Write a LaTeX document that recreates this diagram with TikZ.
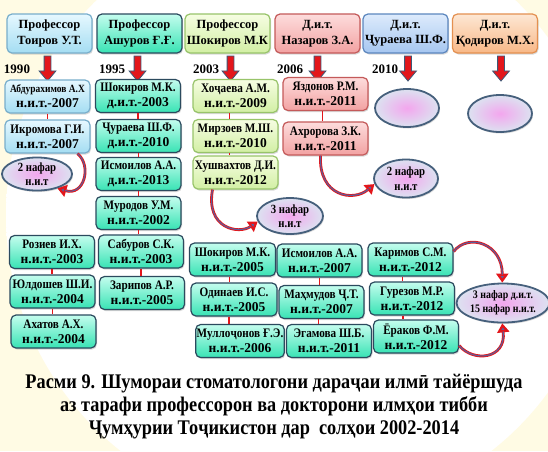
\documentclass[tikz,border=0pt]{standalone}
\usepackage{fontspec}
\setmainfont{Liberation Serif}
\newfontfamily\condfont[FakeStretch=0.86]{Liberation Serif}
\newfontfamily\capfont[FakeStretch=0.88]{Liberation Serif}
\usetikzlibrary{shapes.geometric,shapes.arrows,shadows,arrows.meta,calc}
\definecolor{ybg}{HTML}{FFEF9E}
\definecolor{ycream}{HTML}{FFFBE4}
\definecolor{aquaT}{HTML}{C4FDEE}
\definecolor{aquaB}{HTML}{38E3B4}
\definecolor{aquaD}{HTML}{2B4A5E}
\definecolor{lbT}{HTML}{E6F8FF}
\definecolor{lbB}{HTML}{A4DDF2}
\definecolor{lbD}{HTML}{78AECB}
\definecolor{lgT}{HTML}{F6FDE2}
\definecolor{lgB}{HTML}{D2EFA4}
\definecolor{lgD}{HTML}{98C46A}
\definecolor{pkT}{HTML}{FDDCDC}
\definecolor{pkB}{HTML}{F2A2A2}
\definecolor{pkD}{HTML}{C45A5A}
\definecolor{blT}{HTML}{DDEBFC}
\definecolor{blB}{HTML}{A6C6F0}
\definecolor{blD}{HTML}{5B86BE}
\definecolor{orT}{HTML}{FDE7D4}
\definecolor{orB}{HTML}{F8B887}
\definecolor{orD}{HTML}{E49050}
\definecolor{elIn}{HTML}{F3A6EE}
\definecolor{elOut}{HTML}{DCE2F0}
\definecolor{elD}{HTML}{46607C}
\definecolor{cred}{HTML}{E3161B}
\definecolor{cslate}{HTML}{5B5F9C}
\definecolor{arrD}{HTML}{3C5A78}
\pgfdeclareradialshading{glow}{\pgfpoint{0bp}{0bp}}{color(0bp)=(white); color(29bp)=(white); color(40bp)=(ybg); color(50bp)=(ycream)}
\newcommand\two[2]{{\condfont\fontsize{13}{15}\selectfont #1}\\#2}
\newcommand\curvearrow[4]{\draw[curv] #1 .. controls #2 and #3 .. #4; \draw[curvin] #1 .. controls #2 and #3 .. #4;}
\begin{document}
\begin{tikzpicture}[x=1pt,y=-1pt,
  box/.style={rounded corners=5pt, line width=1.2pt, align=center, inner sep=1pt,
    minimum width=85pt, minimum height=33pt,
    drop shadow={opacity=0.3, shadow xshift=1pt, shadow yshift=-1.5pt},
    font=\fontsize{13.5}{15}\selectfont\bfseries},
  aqua/.style={box, draw=aquaD, top color=aquaT, bottom color=aquaB},
  lblue/.style={box, draw=lbD, top color=lbT, bottom color=lbB},
  lgreen/.style={box, draw=lgD, top color=lgT, bottom color=lgB},
  pinkbox/.style={box, draw=pkD, top color=pkT, bottom color=pkB},
  bluebox/.style={box, draw=blD, top color=blT, bottom color=blB},
  orangebox/.style={box, draw=orD, top color=orT, bottom color=orB},
  head/.style={minimum height=39pt, font=\fontsize{12.5}{15.5}\selectfont\bfseries},
  ell/.style={ellipse, draw=elD, line width=1.8pt, inner color=elIn, outer color=elOut,
    inner sep=0pt, align=center, font=\condfont\fontsize{12.5}{14.5}\selectfont\bfseries,
    drop shadow={opacity=0.3, shadow xshift=1pt, shadow yshift=-1.5pt}},
  conn/.style={draw=cred, line width=1.2pt},
  yr/.style={font=\fontsize{13}{15}\selectfont\bfseries, inner sep=0pt},
  darr/.style={single arrow, draw=arrD, fill=cred, line width=0.8pt, minimum height=25pt,
    single arrow head extend=5pt, single arrow tip angle=80, inner xsep=0pt, inner ysep=3pt, rotate=-90},
  curv/.style={draw=cred, line width=2.8pt, -{Triangle[width=12pt,length=9pt,fill=cslate]}},
  curvin/.style={draw=cslate, line width=1.1pt, shorten >=8pt}
]
\useasboundingbox (0,0) rectangle (548,451);
\begin{scope}
\clip (0,0) rectangle (548,451);
\fill[ycream] (0,0) rectangle (548,451);
\shade[shading=glow] (306,215) circle (300);
\end{scope}

% headers
\node[lblue, head] (h1) at (49.5,33.5) {Профессор\\Тоиров У.Т.};
\node[aqua, head] (h2) at (139.5,33.5) {Профессор\\Ашуров Ғ.Ғ.};
\node[lgreen, head] (h3) at (227.5,33.5) {Профессор\\Шокиров М.К};
\node[pinkbox, head] (h4) at (317.5,33.5) {Д.и.т.\\Назаров З.А.};
\node[bluebox, head] (h5) at (405.5,33.5) {Д.и.т.\\Ҷураева Ш.Ф.};
\node[orangebox, head] (h6) at (495,33.5) {Д.и.т.\\Қодиров М.Х.};

% years
\node[yr] (y1) at (17,69) {1990};
\node[yr] (y2) at (112,69) {1995};
\node[yr] (y3) at (206,69) {2003};
\node[yr] (y4) at (290,69) {2006};
\node[yr] (y5) at (385,69) {2010};

% down arrows
\node[darr, anchor=tail] (ah1) at ($(h1.south)+(-2,2)$) {};
\node[darr, anchor=tail] (ah2) at ($(h2.south)+(-2,2)$) {};
\node[darr, anchor=tail] (ah3) at ($(h3.south)+(3,2)$) {};
\node[darr, anchor=tail] (ah4) at ($(h4.south)+(0,2)$) {};
\node[darr, anchor=tail] (ah5) at ($(h5.south)+(2.5,2)$) {};
\node[darr, anchor=tail] (ah6) at ($(h6.south)+(6,2)$) {};

% column 1
\node[lblue] (c1a) at (47.5,96.5) {\two{\fontsize{11}{13}\selectfont Абдурахимов А.Х}{н.и.т.-2007}};
\node[lblue] (c1b) at (47.5,136.5) {\two{Икромова Г.И.}{н.и.т.-2007}};
\node[ell, minimum width=70pt, minimum height=32pt] (e1) at (37,174) {2 нафар\\н.и.т};

% column 2
\node[aqua] (c2a) at (138,96) {\two{Шокиров М.К.}{д.и.т.-2003}};
\node[aqua] (c2b) at (138.5,136) {\two{Ҷураева Ш.Ф.}{д.и.т.-2010}};
\node[aqua] (c2c) at (138.5,174) {\two{Исмоилов А.А.}{д.и.т.-2013}};
\node[aqua] (c2d) at (138.5,213) {\two{Муродов У.М.}{н.и.т.-2002}};
\node[aqua] (c2e) at (141,251.5) {\two{Сабуров С.К.}{н.и.т.-2003}};
\node[aqua] (c2f) at (142,293) {\two{Зарипов А.Р.}{н.и.т.-2005}};

% column 1 lower
\node[aqua] (r1) at (52,252) {\two{Розиев И.Х.}{н.и.т.-2003}};
\node[aqua] (r2) at (52.5,291.5) {\two{Юлдошев Ш.И.}{н.и.т.-2004}};
\node[aqua] (r3) at (53.5,331.5) {\two{Ахатов А.Х.}{н.и.т.-2004}};

% column 3 upper
\node[lgreen] (c3a) at (235.5,96) {\two{Хоҷаева А.М.}{н.и.т.-2009}};
\node[lgreen] (c3b) at (235.5,136) {\two{Мирзоев М.Ш.}{н.и.т.-2010}};
\node[lgreen] (c3c) at (235.5,172.5) {\two{Хушвахтов Д.И.}{н.и.т.-2012}};
\node[ell, minimum width=66pt, minimum height=36pt] (e3) at (290,216) {3 нафар\\н.и.т};

% column 3 lower
\node[aqua, minimum width=86pt] (d1) at (232.5,259.5) {\two{Шокиров М.К.}{н.и.т.-2005}};
\node[aqua, minimum width=86pt] (d2) at (234,299.5) {\two{Одинаев И.С.}{н.и.т.-2005}};
\node[aqua, minimum width=84pt] (d3) at (240,341) {\two{Муллоҷонов Ғ.Э.}{н.и.т.-2006}};

% column 4 lower
\node[aqua] (f1) at (319.5,260.5) {\two{Исмоилов А.А.}{н.и.т.-2007}};
\node[aqua] (f2) at (321.5,302) {\two{Маҳмудов Ҷ.Т.}{н.и.т.-2007}};
\node[aqua] (f3) at (329,341) {\two{Эгамова Ш.Б.}{н.и.т.-2011}};

% column 4 upper
\node[pinkbox] (p1) at (325.5,94) {\two{Яздонов Р.М.}{н.и.т.-2011}};
\node[pinkbox] (p2) at (325.5,138.5) {\two{Ахророва З.К.}{н.и.т.-2011}};
\node[ell, minimum width=64pt, minimum height=38pt] (e4) at (406,178.5) {2 нафар\\н.и.т};

% empty ellipses
\node[ell, minimum width=64pt, minimum height=38pt] (e5) at (407,108) {};
\node[ell, minimum width=64pt, minimum height=37pt] (e6) at (500,113.5) {};

% column 5 lower
\node[aqua] (g1) at (410.5,259.5) {\two{Каримов С.М.}{н.и.т.-2012}};
\node[aqua] (g2) at (412,298.5) {\two{Гурезов М.Р.}{н.и.т.-2012}};
\node[aqua] (g3) at (416,336.5) {\two{Ёраков Ф.М.}{н.и.т.-2012}};
\node[ell, minimum width=85pt, minimum height=39pt, font=\condfont\fontsize{11.5}{14}\selectfont\bfseries] (eb) at (503,303) {3 нафар д.и.т.\\15 нафар н.и.т.};

% connectors
\draw[conn] (c1a.south) -- (c1a.south |- c1b.north);
\draw[conn] (c2a.south) -- (c2a.south |- c2b.north);
\draw[conn] (c2b.south) -- (c2b.south |- c2c.north);
\draw[conn] (c2c.south) -- (c2c.south |- c2d.north);
\draw[conn] (c2d.south) -- (c2d.south |- c2e.north);
\draw[conn] (c2e.south) -- (c2e.south |- c2f.north);
\draw[conn] (r1.south) -- (r1.south |- r2.north);
\draw[conn] (r2.south) -- (r2.south |- r3.north);
\draw[conn] ($(r2.east)+(0,4)$) -- ($(r2.east)+(0,4)$ -| c2f.west);
\draw[conn] ([xshift=-6pt]c3a.south) -- ([xshift=-6pt]c3a.south |- c3b.north);
\draw[conn] ([xshift=-6pt]c3b.south) -- ([xshift=-6pt]c3b.south |- c3c.north);
\draw[conn] ([xshift=-3pt]d1.south) -- ([xshift=-3pt]d1.south |- d2.north);
\draw[conn] ([xshift=-5pt]d2.south) -- ([xshift=-5pt]d2.south |- d3.north);
\draw[conn] ($(d1.east)+(0,3)$) -- ($(d1.east)+(0,3)$ -| f1.west);
\draw[conn] (f1.south) -- (f1.south |- f2.north);
\draw[conn] ([xshift=-3pt]f2.south) -- ([xshift=-3pt]f2.south |- f3.north);
\draw[conn] ([xshift=-3pt]p1.south) -- ([xshift=-3pt]p1.south |- p2.north);
\draw[conn] ([xshift=-8pt]g1.south) -- ([xshift=-8pt]g1.south |- g2.north);
\draw[conn] ([xshift=-9pt]g2.south) -- ([xshift=-9pt]g2.south |- g3.north);

% curved arrows
\curvearrow{($(c1b.south)+(30,0)$)}{+(14.5,12)}{+(27,8)}{(e1.-35)}
\curvearrow{($(c3c.south)+(-23,0)$)}{+(-7,39)}{+(-19,13)}{(e3.190)}
\curvearrow{($(p2.south)+(-5,0)$)}{+(-2,41)}{+(-21,18)}{(e4.190)}
\curvearrow{($(g1.east)+(0,-8)$)}{+(15,-19)}{+(0,-39)}{(eb.92)}
\curvearrow{($(g3.east)+(0,9)$)}{+(14,17)}{+(4,36)}{(eb.-92)}

% caption
\node[font=\capfont\fontsize{20.8}{23}\selectfont\bfseries, align=center] (cap) at (274,407)
  {Расми 9. Шумораи стоматологони дараҷаи илмӣ тайёршуда\\аз тарафи профессорон ва докторони илмҳои тибби\\Ҷумҳурии Тоҷикистон дар~ солҳои 2002-2014};
\end{tikzpicture}
\end{document}
